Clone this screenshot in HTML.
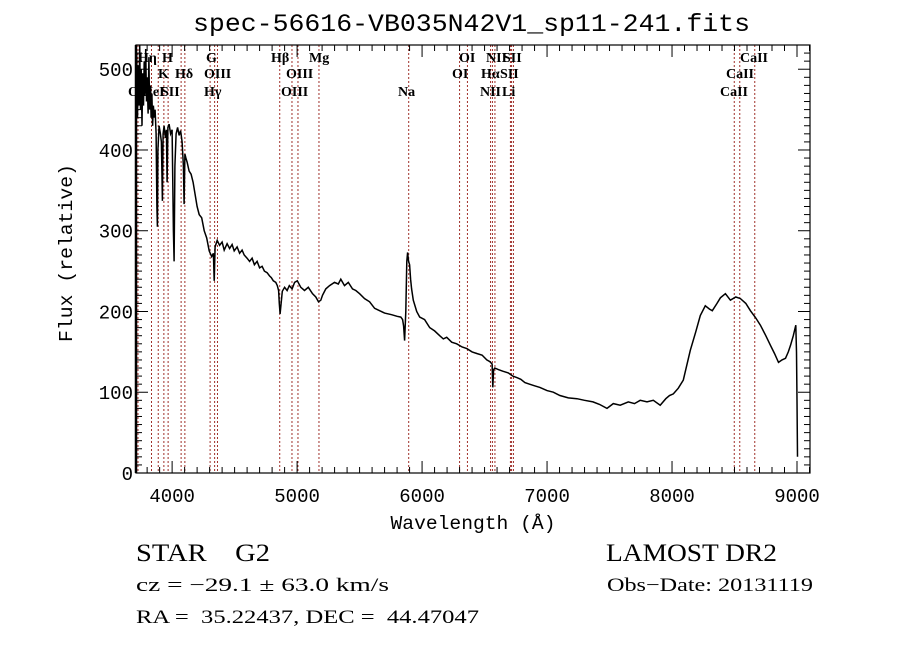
<!DOCTYPE html>
<html><head><meta charset="utf-8"><style>
html,body{margin:0;padding:0;background:#fff;}
svg{display:block;}
text{white-space:pre;}
.ax{font-family:"Liberation Mono","DejaVu Sans Mono",monospace;font-size:19px;fill:#000;}
.ln{font-family:"Liberation Serif",serif;font-size:14px;font-weight:bold;fill:#000;}
.info{font-family:"Liberation Serif",serif;fill:#000;}
</style></head><body>
<svg id="chart" width="900" height="649" viewBox="0 0 900 649" xmlns="http://www.w3.org/2000/svg" xml:space="preserve">
<rect width="900" height="649" fill="#fff"/>
<text x="193" y="31" class="ax" style="font-size:25px" textLength="557" lengthAdjust="spacingAndGlyphs">spec-56616-VB035N42V1_sp11-241.fits</text>
<g id="lines"></g>
<g id="spec"></g>
<g id="axes"></g>
<text x="473" y="529" class="ax" text-anchor="middle" textLength="165" lengthAdjust="spacingAndGlyphs">Wavelength (Å)</text>
<text transform="translate(72,253) rotate(-90)" class="ax" text-anchor="middle" textLength="178" lengthAdjust="spacingAndGlyphs">Flux (relative)</text>
<text x="136" y="561" class="info" style="font-size:25px" textLength="134" lengthAdjust="spacingAndGlyphs">STAR    G2</text>
<text x="606" y="561" class="info" style="font-size:25px" textLength="171" lengthAdjust="spacingAndGlyphs">LAMOST DR2</text>
<text x="136" y="591" class="info" style="font-size:19px" textLength="253" lengthAdjust="spacingAndGlyphs">cz = −29.1 ± 63.0 km/s</text>
<text x="607" y="591" class="info" style="font-size:19px" textLength="206" lengthAdjust="spacingAndGlyphs">Obs−Date: 20131119</text>
<text x="136" y="623" class="info" style="font-size:19px" textLength="343" lengthAdjust="spacingAndGlyphs">RA =  35.22437, DEC =  44.47047</text>
</svg>
<script>
const wavelengths=[3711,3717,3723,3729,3735,3741,3747,3753,3759,3765,3771,3777,3783,3789,3795,3801,3808,3814,3820,3826,3832,3838,3844,3850,3856,3864,3872,3878,3882,3886,3896,3906,3914,3922,3928,3936,3946,3954,3960,3966,3976,3988,4000,4010,4016,4022,4032,4044,4056,4068,4080,4090,4096,4102,4110,4120,4136,4152,4168,4184,4200,4217,4237,4257,4277,4297,4317,4330,4337,4344,4361,4380,4400,4417,4440,4460,4480,4497,4520,4540,4560,4577,4600,4620,4640,4658,4680,4700,4720,4738,4760,4780,4794,4810,4830,4842,4852,4858,4864,4882,4900,4920,4938,4960,4980,5002,5030,5059,5090,5123,5150,5171,5190,5203,5230,5260,5299,5330,5350,5379,5410,5443,5470,5500,5540,5580,5620,5660,5700,5756,5800,5830,5844,5852,5860,5870,5878,5884,5892,5900,5908,5916,5930,5957,5981,6020,6061,6100,6141,6170,6197,6237,6277,6320,6358,6400,6438,6480,6518,6542,6560,6566,6572,6582,6610,6646,6690,6726,6760,6790,6823,6860,6900,6943,7000,7050,7103,7170,7240,7300,7368,7420,7480,7530,7585,7650,7700,7745,7800,7850,7905,7950,7980,8010,8050,8090,8146,8190,8226,8266,8300,8322,8360,8387,8427,8467,8510,8547,8590,8627,8670,8707,8750,8788,8820,8852,8880,8908,8930,8948,8970,8990,8996,9000,9004];
const fluxes=[470,520,440,505,455,530,450,500,430,495,455,510,470,525,460,490,445,515,450,480,440,470,430,455,440,450,420,330,305,400,430,420,410,337,420,430,415,425,360,428,432,420,425,300,262,380,420,428,418,424,410,380,333,395,390,385,374,370,360,345,330,320,316,300,291,275,268,272,238,280,288,282,286,276,284,278,283,275,280,272,276,270,266,262,266,258,262,254,256,250,248,244,242,238,236,232,226,210,197,225,230,226,232,228,236,238,230,226,230,222,218,212,214,220,228,232,236,234,240,232,236,228,226,222,216,212,204,201,198,196,194,193,190,182,164,200,262,273,262,258,240,228,214,200,193,190,180,176,170,166,168,162,160,156,154,150,148,146,140,138,135,106,128,130,128,126,124,120,118,116,112,110,108,106,102,100,96,93,92,90,88,85,80,86,84,88,86,90,88,90,84,92,96,98,105,115,152,175,195,207,203,201,210,217,222,214,218,216,210,201,192,183,170,158,148,137,140,142,150,158,170,183,150,90,20];
const yTicks=[0,100,200,300,400,500];
const xTicks=[4000,5000,6000,7000,8000,9000];
const lineWaves=[3727,3835,3889,3934,3968,4072,4102,4304,4340,4363,4861,4959,5007,5175,5893,6300,6363,6548,6563,6583,6707,6716,6731,8498,8542,8662];
const lineLabels=[["Hη",138,62],["H",162,62],["G",206,62],["Hβ",271,62],["Mg",309,62],["OI",459,62],["NII",486,62],["SII",503,62],["CaII",740,62],
["K",158,78],["Hδ",175,78],["OIII",204,78],["OIII",286,78],["OI",452,78],["Hα",481,78],["SII",500,78],["CaII",726,78],
["OII",128,96],["HeI",142,96],["SII",161,96],["Hγ",204,96],["OIII",281,96],["Na",398,96],["NII",480,96],["Li",502,96],["CaII",720,96]];
const X0=136,X1=810,Y0=45,Y1=473;
const WMIN=3711,WMAX=9104,FMIN=0,FMAX=530;
function xs(w){return X0+(w-WMIN)/(WMAX-WMIN)*(X1-X0);}
function ys(f){return Y1-(f-FMIN)/(FMAX-FMIN)*(Y1-Y0);}
const NS="http://www.w3.org/2000/svg";
function mk(tag,attrs,parent){const e=document.createElementNS(NS,tag);for(const k in attrs)e.setAttribute(k,attrs[k]);parent.appendChild(e);return e;}
const gl=document.getElementById('lines');
lineWaves.forEach(w=>{const l=mk('line',{x1:xs(w),x2:xs(w),y1:Y0,y2:Y1,stroke:'#a0302a','stroke-width':1,'stroke-dasharray':'2,2'},gl);

});
lineLabels.forEach(a=>{const t=mk('text',{x:a[1],y:a[2],class:'ln'},gl);t.textContent=a[0];

});
const gs=document.getElementById('spec');
let d='';wavelengths.forEach((w,i)=>{d+=(i?'L':'M')+xs(w).toFixed(1)+' '+ys(fluxes[i]).toFixed(1);});
const p=mk('path',{d:d,fill:'none',stroke:'#000','stroke-width':1.5},gs);


const ga=document.getElementById('axes');
const fr=mk('rect',{x:X0,y:Y0,width:X1-X0,height:Y1-Y0,fill:'none',stroke:'#000','stroke-width':1.2},ga);


mk('line',{x1:X0,x2:X0,y1:Y0,y2:Y1,stroke:'#000','stroke-width':2.5},ga);
for(let w=3800;w<=9100;w+=100){const major=w%1000===0;const L=major?12:6;
mk('line',{x1:xs(w),x2:xs(w),y1:Y1,y2:Y1-L,stroke:'#000'},ga);
mk('line',{x1:xs(w),x2:xs(w),y1:Y0,y2:Y0+L,stroke:'#000'},ga);}
for(let f=0;f<=530;f+=10){const major=f%100===0;const L=major?12:6;
mk('line',{x1:X0,x2:X0+L,y1:ys(f),y2:ys(f),stroke:'#000'},ga);
mk('line',{x1:X1,x2:X1-L,y1:ys(f),y2:ys(f),stroke:'#000'},ga);}
xTicks.forEach(w=>{const t=mk('text',{x:xs(w),y:502,class:'ax','text-anchor':'middle'},ga);t.textContent=w;

});
yTicks.forEach(f=>{const t=mk('text',{x:133,y:ys(f)+7,class:'ax','text-anchor':'end'},ga);t.textContent=f;

});
</script>
</body></html>
